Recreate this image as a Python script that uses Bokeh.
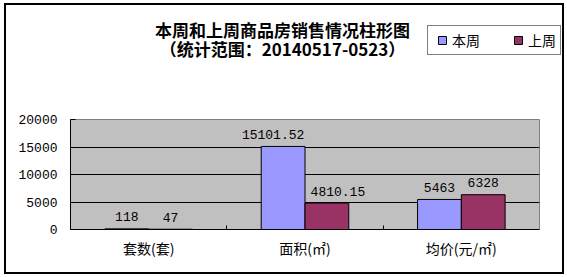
from bokeh.plotting import figure
from bokeh.layouts import column
from bokeh.models import ColumnDataSource, Label, Legend, LegendItem, FixedTicker, Range1d
from bokeh.core.properties import value
from bokeh.embed import file_html
from bokeh.resources import INLINE

# --- data -------------------------------------------------------------
categories = ["套数(套)", "面积(㎡)", "均价(元/㎡)"]
series_names = ["本周", "上周"]
this_week = [118, 15101.52, 5463]
last_week = [47, 4810.15, 6328]
this_week_labels = ["118", "15101.52", "5463"]
last_week_labels = ["47", "4810.15", "6328"]
y_ticks = [0, 5000, 10000, 15000, 20000]

title_line1 = "本周和上周商品房销售情况柱形图"
title_line2 = "（统计范围：20140517-0523）"

# --- style ------------------------------------------------------------
BLUE = "#9999FF"
MAROON = "#993366"
PLOT_BG = "#C0C0C0"
CJK = "Noto Sans CJK SC"
MONO = "Liberation Mono"
BAR_W = 0.28
CANVAS_W = 556
HEADER_H = 104
# small horizontal nudges (px) for the value labels
nudge_this = [0, -10, 0]
nudge_last = [0, 11, 0]

n = len(categories)
centers = [i + 0.5 for i in range(n)]

# --- header: heading and legend ---------------------------------------
head = figure(
    width=CANVAS_W, height=HEADER_H,
    x_range=Range1d(0, CANVAS_W), y_range=Range1d(0, HEADER_H),
    x_axis_location=None, y_axis_location=None,
    output_backend="svg", toolbar_location=None,
    min_border=0, outline_line_color=None,
    background_fill_color="white", border_fill_color="white",
)
head.frame_align = False
head.grid.visible = False

for text, y in ((title_line1, 80), (title_line2, 61)):
    head.add_layout(Label(
        x=276, y=y, text=text,
        text_align="center", text_baseline="middle",
        text_font=CJK, text_font_size="17px", text_font_style="bold",
        text_color="black"))

# legend swatch renderers: one point each, parked outside the header's view
swatches = [
    head.scatter(x=[-50], y=[-50], marker="square", size=8, fill_color=color,
                 line_color="black", line_width=1)
    for color in (BLUE, MAROON)
]
legend = Legend(
    items=[LegendItem(label=name, renderers=[r]) for name, r in zip(series_names, swatches)],
    orientation="horizontal", location=(421, 54),
    glyph_width=20, glyph_height=20, label_height=20, label_standoff=0,
    spacing=28, padding=4, margin=0,
    border_line_color="black", border_line_width=1,
    background_fill_color="white", background_fill_alpha=1,
    label_text_font=CJK, label_text_font_size="14px", label_text_color="black",
)
head.add_layout(legend)

# --- bar chart ----------------------------------------------------------
p = figure(
    frame_width=469, frame_height=110,
    x_range=Range1d(0, n), y_range=Range1d(0, y_ticks[-1]),
    output_backend="svg", toolbar_location=None,
    min_border_left=64, min_border_right=23,
    min_border_top=10, min_border_bottom=43,
    background_fill_color=PLOT_BG, border_fill_color="white",
)
p.frame_align = False
p.outline_line_color = "#808080"
p.outline_line_width = 1

src_this = ColumnDataSource(dict(
    x=[c - BAR_W / 2 for c in centers], top=this_week,
    label=this_week_labels, dx=nudge_this))
src_last = ColumnDataSource(dict(
    x=[c + BAR_W / 2 for c in centers], top=last_week,
    label=last_week_labels, dx=nudge_last))

for src, color in ((src_this, BLUE), (src_last, MAROON)):
    p.vbar(x="x", top="top", bottom=0, width=BAR_W, source=src,
           fill_color=color, line_color="black", line_width=1)
    p.text(x="x", y="top", text="label", source=src,
           x_offset="dx", y_offset=-12,
           text_align="center", text_baseline="alphabetic",
           text_font=value(MONO), text_font_size="13px", text_color="black")

p.xgrid.visible = False
p.ygrid.ticker = FixedTicker(ticks=y_ticks)
p.ygrid.grid_line_color = "black"
p.ygrid.grid_line_width = 1

yax = p.yaxis[0]
yax.ticker = FixedTicker(ticks=y_ticks)
yax.axis_line_color = "black"
yax.major_tick_line_color = "black"
yax.major_tick_in = 5
yax.major_tick_out = 0
yax.minor_tick_line_color = None
yax.major_label_standoff = 13
yax.major_label_text_font = MONO
yax.major_label_text_font_size = "13px"
yax.major_label_text_color = "black"

# category labels at the centres, tick marks between categories
xax = p.xaxis[0]
xax.ticker = FixedTicker(ticks=centers, minor_ticks=list(range(1, n)))
xax.major_label_overrides = {c: name for c, name in zip(centers, categories)}
xax.axis_line_color = "black"
xax.major_tick_line_color = None
xax.major_tick_in = 0
xax.major_tick_out = 0
xax.minor_tick_line_color = "black"
xax.minor_tick_in = 4
xax.minor_tick_out = 0
xax.major_label_standoff = 8
xax.major_label_text_font = CJK
xax.major_label_text_font_size = "14px"
xax.major_label_text_color = "black"

chart = column(head, p, spacing=0,
               styles={"margin-left": "4px", "margin-top": "3px",
                       "border": "2px solid black"})

open("out.html", "w").write(file_html(chart, INLINE))
